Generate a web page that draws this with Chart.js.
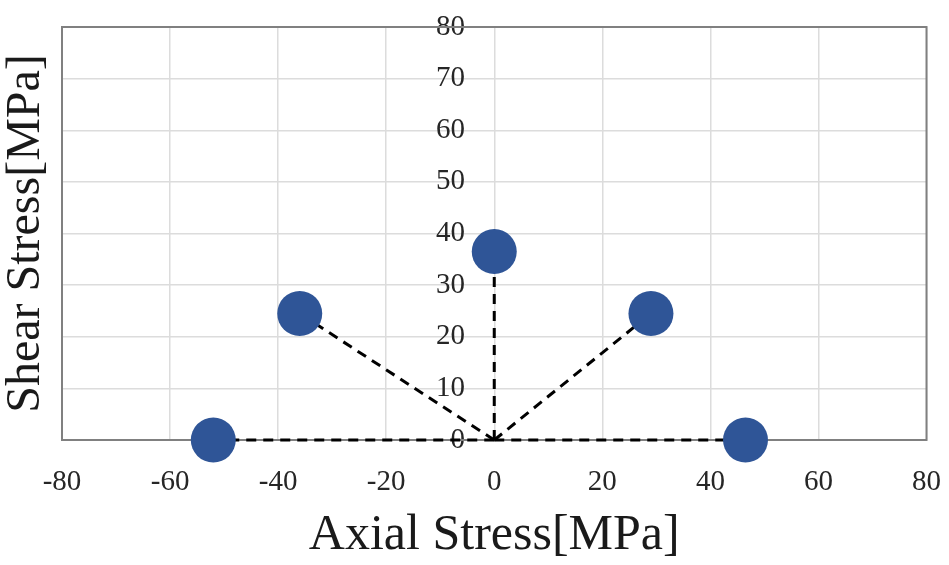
<!DOCTYPE html>
<html>
<head>
<meta charset="utf-8">
<script src="https://cdn.jsdelivr.net/npm/chart.js@4/dist/chart.umd.min.js"></script>
<style>
  html, body { margin: 0; padding: 0; background: #ffffff; }
  #wrap { width: 949px; height: 565px; }
</style>
</head>
<body>
<div id="wrap"><canvas id="chart" width="949" height="565"></canvas></div>
<script>
// Stress states: axial (x) and shear (y) components, MPa
const axialStress = [-52, -36, 0, 29, 46.5];
const shearStress = [0, 24.5, 36.5, 24.5, 0];

// Axis ranges and tick spacing
const axialRange = [-80, 80];
const axialStep = 20;
const shearRange = [0, 80];
const shearStep = 10;

const axialTitle = 'Axial Stress[MPa]';
const shearTitle = 'Shear Stress[MPa]';

// The shear tick labels hang just left of the zero line
const shearLabelAnchor = -5.4;

const serif = '"Liberation Serif", "Times New Roman", serif';
const pointColor = '#2F5597';
const gridColor = '#dcdcdc';
const frameColor = '#808080';

// Dashed rays from the origin to each stress state
const rays = axialStress.map((ax, i) => ({
  type: 'scatter',
  data: [{ x: 0, y: 0 }, { x: ax, y: shearStress[i] }],
  showLine: true,
  borderColor: '#000000',
  borderWidth: 3,
  borderDash: [10, 7],
  pointRadius: 0,
  clip: false,
  order: 2,
  xAxisID: 'x',
  yAxisID: 'y'
}));

const states = {
  type: 'scatter',
  data: axialStress.map((ax, i) => ({ x: ax, y: shearStress[i] })),
  backgroundColor: pointColor,
  borderColor: pointColor,
  borderWidth: 0,
  pointRadius: 22.5,
  pointHoverRadius: 22.5,
  clip: false,
  order: 1,
  xAxisID: 'x',
  yAxisID: 'y'
};

// Frame around the plotting area
const plotFrame = {
  id: 'plotFrame',
  beforeDatasetsDraw(chart) {
    const { ctx, chartArea: a } = chart;
    ctx.save();
    ctx.strokeStyle = frameColor;
    ctx.lineWidth = 2;
    ctx.strokeRect(a.left, a.top, a.right - a.left, a.bottom - a.top);
    ctx.restore();
  }
};

// Let the layout padding alone decide the plot margins
function noLabelOverhang(s) {
  s.paddingLeft = 0;
  s.paddingRight = 0;
  s.paddingTop = 0;
  s.paddingBottom = 0;
}

new Chart(document.getElementById('chart'), {
  type: 'scatter',
  data: { datasets: [states, ...rays] },
  plugins: [plotFrame],
  options: {
    responsive: false,
    animation: false,
    events: [],
    layout: { padding: { top: 27, right: 20, left: 0, bottom: 0 } },
    plugins: { legend: { display: false }, tooltip: { enabled: false } },
    scales: {
      x: {
        type: 'linear',
        position: 'bottom',
        min: axialRange[0],
        max: axialRange[1],
        afterFit(s) { s.height = 125; noLabelOverhang(s); },
        ticks: {
          stepSize: axialStep,
          color: '#262626',
          padding: 25,
          font: { family: serif, size: 29 }
        },
        grid: { color: gridColor, lineWidth: 1.5, drawTicks: false },
        border: { display: false },
        title: {
          display: true,
          text: axialTitle,
          color: '#1a1a1a',
          padding: 0,
          font: { family: serif, size: 50, lineHeight: 1.16 }
        }
      },
      yTitle: {
        type: 'linear',
        position: 'left',
        min: shearRange[0],
        max: shearRange[1],
        afterFit(s) { s.width = 62; noLabelOverhang(s); },
        ticks: { display: false },
        grid: { display: false },
        border: { display: false },
        title: {
          display: true,
          text: shearTitle,
          color: '#1a1a1a',
          padding: 0,
          font: { family: serif, size: 48, lineHeight: 1.1 }
        }
      },
      y: {
        type: 'linear',
        position: { x: shearLabelAnchor },
        min: shearRange[0],
        max: shearRange[1],
        afterFit: noLabelOverhang,
        ticks: {
          stepSize: shearStep,
          color: '#262626',
          padding: 0,
          font: { family: serif, size: 29 }
        },
        grid: { color: gridColor, lineWidth: 1.5, drawTicks: false },
        border: { display: false }
      }
    }
  }
});
</script>
</body>
</html>
